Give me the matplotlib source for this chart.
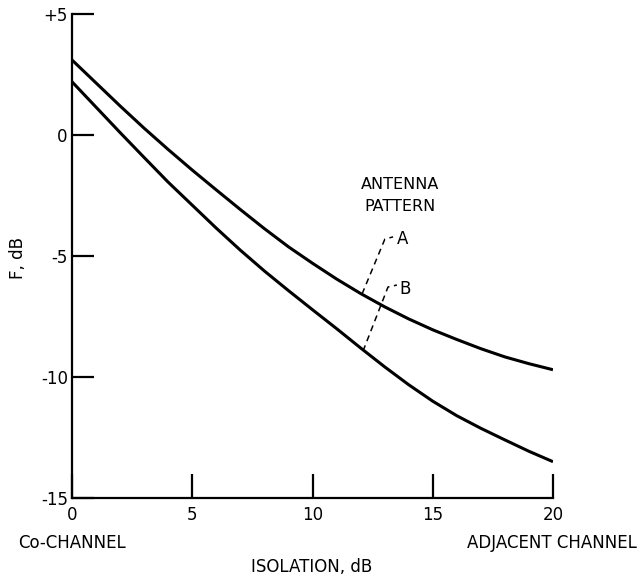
import matplotlib
matplotlib.use("Agg")
import matplotlib.pyplot as plt

# values (isolation in dB vs F in dB)
isolation = [0, 1, 2, 3, 4, 5, 6, 7, 8, 9, 10, 11, 12, 13, 14, 15, 16, 17, 18, 19, 20]
f_pattern_a = [3.1, 2.15, 1.2, 0.28, -0.6, -1.45, -2.27, -3.08, -3.87, -4.62, -5.3,
               -5.95, -6.55, -7.1, -7.6, -8.05, -8.45, -8.83, -9.17, -9.45, -9.7]
f_pattern_b = [2.2, 1.15, 0.1, -0.93, -1.95, -2.9, -3.85, -4.76, -5.62, -6.43, -7.22,
               -8.0, -8.8, -9.58, -10.32, -11.0, -11.6, -12.12, -12.6, -13.07, -13.5]

x_ticks = [0, 5, 10, 15, 20]
y_ticks = [5, 0, -5, -10, -15]
y_tick_labels = ["+5", "0", "-5", "-10", "-15"]

plt.rcParams["font.family"] = ["DejaVu Sans"]

fig = plt.figure(figsize=(6.41, 5.79), dpi=100)
ax = fig.add_axes([72 / 641, 1 - 498 / 579, 481 / 641, 484 / 579])

for f in (f_pattern_a, f_pattern_b):
    ax.plot(isolation, f, color="black", lw=2.2, solid_capstyle="butt", solid_joinstyle="round")

ax.set_xlim(0, 20)
ax.set_ylim(-15, 5)
ax.spines["top"].set_visible(False)
ax.spines["right"].set_visible(False)
for s in ("left", "bottom"):
    ax.spines[s].set_linewidth(1.6)

ax.set_xticks(x_ticks)
ax.set_xticklabels([str(t) for t in x_ticks])
ax.set_yticks(y_ticks)
ax.set_yticklabels(y_tick_labels)
ax.tick_params(axis="y", direction="in", length=16, width=1.6, labelsize=12, pad=3)
ax.tick_params(axis="x", direction="in", length=17, width=1.6, labelsize=12, pad=6)

# dashed leaders for the antenna pattern labels
ax.plot([12.06, 13.01, 13.35], [-6.57, -4.30, -4.21], color="black", lw=1.1, ls=(0, (4, 3)))
ax.plot([12.1, 13.14, 13.51], [-8.93, -6.28, -6.2], color="black", lw=1.1, ls=(0, (4, 3)))
ax.text(13.5, -4.3, "A", fontsize=12, ha="left", va="center")
ax.text(13.62, -6.36, "B", fontsize=12, ha="left", va="center")
ax.text(13.64, -2.5, "ANTENNA\nPATTERN", fontsize=11.5, ha="center", va="center", linespacing=1.6)

fig.text(18 / 641, 1 - 543 / 579, "Co-CHANNEL", fontsize=12, ha="left", va="center")
fig.text(467 / 641, 1 - 543 / 579, "ADJACENT CHANNEL", fontsize=12, ha="left", va="center")
fig.text(312 / 641, 1 - 567 / 579, "ISOLATION, dB", fontsize=12, ha="center", va="center")
fig.text(18 / 641, 1 - 258 / 579, "F, dB", fontsize=12, ha="center", va="center", rotation=90)

fig.savefig("out.png", dpi=100)
